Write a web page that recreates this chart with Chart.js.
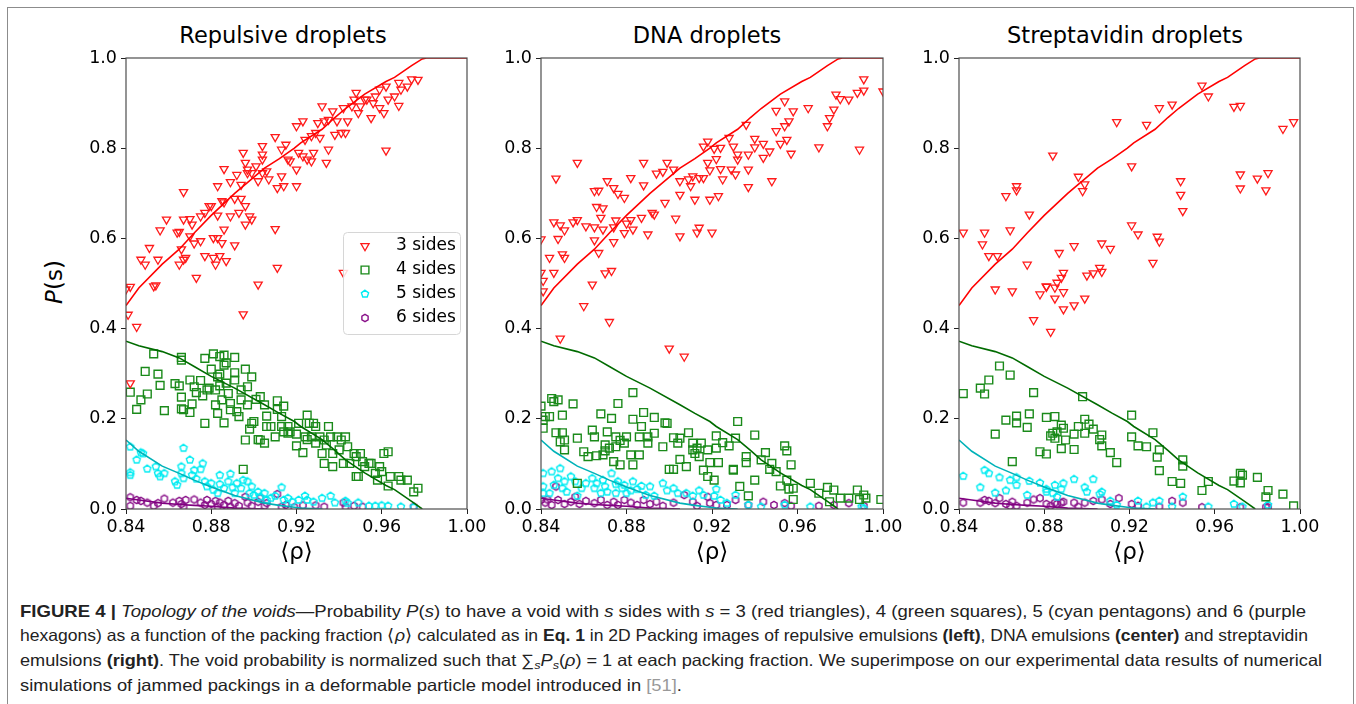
<!DOCTYPE html>
<html>
<head>
<meta charset="utf-8">
<script src="https://cdn.jsdelivr.net/npm/chart.js@4.4.1/dist/chart.umd.min.js"></script>
<style>
html, body { margin: 0; padding: 0; background: #fff; width: 1356px; height: 704px; overflow: hidden; }
.frame { position: absolute; left: 7px; top: 7px; width: 1345px; height: 740px; border: 1.5px solid #8c8c8c; }
canvas { position: absolute; top: 0; }
.title { position: absolute; top: 22px; width: 400px; text-align: center; font-family: 'DejaVu Sans'; font-size: 22.5px; line-height: 26px; color: #000; }
.ylab { position: absolute; left: 54px; top: 282px; font-family: 'DejaVu Sans'; font-size: 23px; line-height: 26px; white-space: nowrap; transform: translate(-50%, -50%) rotate(-90deg); }
.cap { position: absolute; left: 20px; font-family: 'Liberation Sans Narrow', 'Liberation Sans', Arial, sans-serif; font-size: 16.5px; line-height: 20px; color: #222; white-space: nowrap; transform-origin: 0 50%; }
.cap sub { font-size: 0.7em; line-height: 0; vertical-align: -0.3em; }
</style>
</head>
<body>
<div class="frame"></div>
<div class="title" style="left:83px">Repulsive droplets</div>
<div class="title" style="left:507px">DNA droplets</div>
<div class="title" style="left:925px">Streptavidin droplets</div>
<div class="ylab"><i>P</i>(s)</div>
<canvas id="c1" width="500" height="580" style="left:0px;width:500px;height:580px"></canvas>
<canvas id="c2" width="410" height="580" style="left:500px;width:410px;height:580px"></canvas>
<canvas id="c3" width="446" height="580" style="left:910px;width:446px;height:580px"></canvas>

<div class="cap" data-w="1286" style="top:601px"><b>FIGURE 4 |</b> <i>Topology of the voids</i>—Probability <i>P</i>(<i>s</i>) to have a void with <i>s</i> sides with <i>s</i> = 3 (red triangles), 4 (green squares), 5 (cyan pentagons) and 6 (purple</div>
<div class="cap" data-w="1288" style="top:625px">hexagons) as a function of the packing fraction ⟨<i>ρ</i>⟩ calculated as in <b>Eq. 1</b> in 2D Packing images of repulsive emulsions <b>(left)</b>, DNA emulsions <b>(center)</b> and streptavidin</div>
<div class="cap" data-w="1302" style="top:650px">emulsions <b>(right)</b>. The void probability is normalized such that ∑<sub><i>s</i></sub><i>P<sub>s</sub></i>(<i>ρ</i>) = 1 at each packing fraction. We superimpose on our experimental data results of numerical</div>
<div class="cap" data-w="662" style="top:675px">simulations of jammed packings in a deformable particle model introduced in <span style="color:#999">[51]</span>.</div>

<script>
// axis ticks
const xTicks = [0.84, 0.88, 0.92, 0.96, 1.00];
const yTicks = [0.0, 0.2, 0.4, 0.6, 0.8, 1.0];

// simulation curves (same for every panel)
const simRho = [0.840, 0.846, 0.857, 0.865, 0.872, 0.880, 0.891, 0.905, 0.912, 0.919, 0.922, 0.932, 0.938, 0.943, 0.952, 0.962, 0.966, 0.974, 0.979, 0.981, 1.000];
const sim3 = [0.451, 0.490, 0.543, 0.576, 0.612, 0.651, 0.700, 0.756, 0.777, 0.800, 0.812, 0.842, 0.868, 0.888, 0.920, 0.948, 0.957, 0.983, 0.998, 1.0, 1.0];
const sim4 = [0.372, 0.362, 0.349, 0.335, 0.316, 0.294, 0.268, 0.231, 0.212, 0.194, 0.183, 0.154, 0.130, 0.109, 0.080, 0.052, 0.043, 0.017, 0.0, null, null];
const sim5 = [0.153, 0.128, 0.095, 0.079, 0.064, 0.049, 0.030, 0.013, 0.008, 0.004, 0.002, 0.0, null, null, null, null, null, null, null, null, null];
const sim6 = [0.024, 0.020, 0.013, 0.010, 0.008, 0.006, 0.002, 0.0, null, null, null, null, null, null, null, null, null, null, null, null, null];

// repulsive droplets [rho, P]
const repTri = [[0.847,0.553],[0.849,0.542],[0.851,0.579],[0.854,0.496],[0.855,0.553],[0.856,0.618],[0.859,0.642],[0.864,0.613],[0.865,0.615],[0.867,0.703],[0.866,0.576],[0.867,0.553],[0.865,0.542],[0.868,0.557],[0.867,0.642],[0.870,0.643],[0.871,0.631],[0.870,0.605],[0.872,0.589],[0.875,0.594],[0.873,0.513],[0.877,0.561],[0.875,0.649],[0.877,0.657],[0.879,0.672],[0.880,0.672],[0.881,0.601],[0.881,0.557],[0.882,0.542],[0.884,0.561],[0.883,0.601],[0.883,0.651],[0.885,0.590],[0.885,0.683],[0.886,0.680],[0.886,0.754],[0.883,0.716],[0.886,0.620],[0.887,0.550],[0.889,0.725],[0.889,0.649],[0.891,0.688],[0.891,0.585],[0.892,0.741],[0.894,0.719],[0.893,0.657],[0.894,0.688],[0.895,0.790],[0.896,0.768],[0.897,0.753],[0.897,0.745],[0.896,0.672],[0.898,0.649],[0.899,0.642],[0.896,0.631],[0.899,0.745],[0.901,0.760],[0.902,0.498],[0.902,0.727],[0.904,0.805],[0.904,0.786],[0.904,0.775],[0.904,0.745],[0.906,0.749],[0.907,0.731],[0.910,0.825],[0.910,0.621],[0.911,0.535],[0.911,0.712],[0.913,0.797],[0.913,0.738],[0.915,0.808],[0.916,0.775],[0.914,0.716],[0.917,0.771],[0.920,0.849],[0.920,0.716],[0.920,0.753],[0.923,0.860],[0.921,0.790],[0.923,0.782],[0.924,0.819],[0.925,0.775],[0.927,0.771],[0.928,0.790],[0.927,0.827],[0.929,0.834],[0.930,0.856],[0.932,0.893],[0.931,0.823],[0.933,0.860],[0.935,0.863],[0.934,0.768],[0.935,0.797],[0.937,0.882],[0.938,0.830],[0.939,0.860],[0.941,0.834],[0.942,0.889],[0.942,0.524],[0.943,0.834],[0.944,0.860],[0.946,0.893],[0.947,0.908],[0.948,0.923],[0.949,0.878],[0.950,0.893],[0.952,0.908],[0.953,0.908],[0.955,0.867],[0.956,0.900],[0.957,0.915],[0.959,0.930],[0.959,0.889],[0.961,0.878],[0.962,0.795],[0.962,0.937],[0.963,0.908],[0.966,0.915],[0.968,0.945],[0.968,0.894],[0.969,0.930],[0.972,0.937],[0.974,0.953],[0.977,0.952],[0.842,0.493],[0.853,0.494],[0.895,0.432],[0.841,0.431],[0.845,0.404],[0.842,0.279],[0.840,0.487]];
const repSq = [[0.842,0.259],[0.845,0.221],[0.847,0.242],[0.850,0.255],[0.849,0.305],[0.853,0.344],[0.855,0.299],[0.856,0.274],[0.858,0.218],[0.863,0.278],[0.865,0.273],[0.866,0.330],[0.866,0.336],[0.866,0.248],[0.866,0.222],[0.867,0.220],[0.870,0.214],[0.870,0.286],[0.872,0.271],[0.871,0.233],[0.873,0.258],[0.875,0.285],[0.876,0.251],[0.877,0.334],[0.877,0.190],[0.878,0.264],[0.879,0.268],[0.880,0.310],[0.881,0.344],[0.882,0.231],[0.882,0.264],[0.883,0.212],[0.883,0.293],[0.884,0.273],[0.884,0.299],[0.884,0.338],[0.885,0.242],[0.886,0.319],[0.886,0.341],[0.886,0.191],[0.887,0.279],[0.887,0.324],[0.888,0.256],[0.889,0.234],[0.889,0.220],[0.891,0.336],[0.891,0.302],[0.891,0.286],[0.892,0.216],[0.893,0.205],[0.894,0.242],[0.894,0.264],[0.895,0.088],[0.896,0.153],[0.896,0.310],[0.897,0.271],[0.897,0.231],[0.898,0.177],[0.899,0.293],[0.899,0.190],[0.900,0.194],[0.901,0.243],[0.902,0.154],[0.903,0.249],[0.903,0.153],[0.905,0.146],[0.905,0.231],[0.906,0.206],[0.906,0.183],[0.908,0.183],[0.910,0.160],[0.911,0.240],[0.911,0.221],[0.913,0.205],[0.913,0.183],[0.914,0.228],[0.914,0.171],[0.916,0.183],[0.916,0.168],[0.917,0.171],[0.920,0.140],[0.920,0.166],[0.921,0.190],[0.923,0.125],[0.924,0.160],[0.925,0.208],[0.925,0.154],[0.926,0.190],[0.927,0.160],[0.928,0.190],[0.929,0.183],[0.929,0.146],[0.931,0.160],[0.932,0.123],[0.933,0.153],[0.933,0.101],[0.934,0.142],[0.935,0.183],[0.936,0.160],[0.937,0.123],[0.937,0.094],[0.939,0.160],[0.940,0.131],[0.941,0.153],[0.942,0.101],[0.943,0.160],[0.944,0.138],[0.945,0.101],[0.947,0.123],[0.948,0.072],[0.948,0.116],[0.949,0.072],[0.950,0.123],[0.951,0.105],[0.952,0.094],[0.954,0.101],[0.955,0.101],[0.957,0.079],[0.958,0.064],[0.959,0.094],[0.960,0.083],[0.961,0.123],[0.963,0.127],[0.963,0.051],[0.964,0.072],[0.968,0.072],[0.969,0.064],[0.972,0.064],[0.975,0.038],[0.977,0.046]];
const repPent = [[0.842,0.081],[0.842,0.075],[0.842,0.138],[0.845,0.109],[0.847,0.125],[0.848,0.123],[0.850,0.089],[0.854,0.094],[0.855,0.079],[0.856,0.072],[0.858,0.079],[0.863,0.061],[0.864,0.053],[0.866,0.094],[0.866,0.079],[0.867,0.135],[0.867,0.068],[0.870,0.109],[0.871,0.075],[0.872,0.086],[0.873,0.067],[0.875,0.088],[0.876,0.101],[0.877,0.061],[0.878,0.050],[0.880,0.057],[0.881,0.042],[0.883,0.035],[0.884,0.075],[0.884,0.055],[0.886,0.046],[0.888,0.061],[0.889,0.078],[0.890,0.048],[0.891,0.035],[0.892,0.057],[0.894,0.046],[0.895,0.064],[0.897,0.061],[0.898,0.035],[0.899,0.050],[0.900,0.031],[0.902,0.038],[0.903,0.027],[0.905,0.035],[0.906,0.020],[0.908,0.024],[0.910,0.029],[0.913,0.048],[0.914,0.020],[0.916,0.024],[0.918,0.016],[0.921,0.020],[0.924,0.029],[0.925,0.020],[0.928,0.016],[0.932,0.024],[0.936,0.029],[0.938,0.014],[0.943,0.018],[0.944,0.013],[0.949,0.014],[0.954,0.007],[0.957,0.007],[0.960,0.008],[0.963,0.007],[0.969,0.005],[0.975,0.004]];
const repHex = [[0.842,0.026],[0.842,0.007],[0.845,0.020],[0.847,0.018],[0.850,0.014],[0.853,0.007],[0.855,0.013],[0.858,0.023],[0.862,0.014],[0.865,0.018],[0.866,0.011],[0.867,0.005],[0.868,0.020],[0.872,0.021],[0.875,0.014],[0.877,0.009],[0.878,0.020],[0.880,0.011],[0.882,0.018],[0.883,0.005],[0.884,0.014],[0.886,0.009],[0.888,0.018],[0.889,0.005],[0.891,0.013],[0.893,0.007],[0.896,0.027],[0.897,0.014],[0.899,0.007],[0.902,0.016],[0.903,0.024],[0.905,0.007],[0.906,0.013],[0.911,0.033],[0.913,0.005],[0.915,0.009],[0.919,0.004],[0.923,0.008],[0.929,0.008],[0.933,0.005],[0.942,0.014],[0.943,0.005],[0.947,0.007],[0.951,0.005],[0.975,0.005]];

// DNA droplets
const dnaTri = [[0.840,0.598],[0.840,0.524],[0.841,0.506],[0.841,0.483],[0.844,0.557],[0.846,0.636],[0.846,0.524],[0.847,0.733],[0.848,0.599],[0.849,0.629],[0.850,0.565],[0.851,0.557],[0.851,0.618],[0.855,0.636],[0.857,0.768],[0.857,0.641],[0.861,0.627],[0.864,0.498],[0.865,0.705],[0.865,0.625],[0.865,0.596],[0.866,0.670],[0.867,0.568],[0.867,0.706],[0.868,0.646],[0.869,0.667],[0.869,0.620],[0.870,0.523],[0.871,0.727],[0.873,0.528],[0.874,0.592],[0.874,0.712],[0.874,0.625],[0.875,0.640],[0.876,0.699],[0.879,0.690],[0.879,0.612],[0.880,0.633],[0.882,0.734],[0.882,0.641],[0.883,0.620],[0.887,0.646],[0.888,0.768],[0.888,0.718],[0.890,0.609],[0.892,0.657],[0.893,0.653],[0.894,0.744],[0.897,0.748],[0.898,0.679],[0.899,0.768],[0.902,0.753],[0.903,0.644],[0.905,0.605],[0.905,0.697],[0.905,0.727],[0.909,0.731],[0.910,0.716],[0.911,0.738],[0.912,0.686],[0.913,0.613],[0.914,0.624],[0.914,0.734],[0.916,0.734],[0.916,0.804],[0.918,0.768],[0.918,0.815],[0.919,0.751],[0.919,0.686],[0.920,0.613],[0.921,0.799],[0.922,0.776],[0.923,0.694],[0.924,0.754],[0.924,0.801],[0.925,0.731],[0.928,0.823],[0.929,0.753],[0.930,0.804],[0.931,0.742],[0.932,0.786],[0.932,0.775],[0.936,0.852],[0.937,0.786],[0.937,0.753],[0.937,0.714],[0.940,0.821],[0.940,0.802],[0.944,0.779],[0.944,0.810],[0.947,0.793],[0.948,0.727],[0.950,0.838],[0.950,0.883],[0.952,0.810],[0.954,0.904],[0.954,0.849],[0.955,0.819],[0.956,0.860],[0.957,0.788],[0.958,0.882],[0.965,0.889],[0.970,0.802],[0.974,0.849],[0.975,0.867],[0.977,0.886],[0.978,0.919],[0.980,0.909],[0.984,0.908],[0.988,0.923],[0.989,0.797],[0.991,0.928],[0.991,0.953],[1.000,0.926],[0.860,0.450],[0.872,0.415],[0.849,0.378],[0.900,0.356],[0.907,0.338]];
const dnaSq = [[0.840,0.228],[0.841,0.179],[0.841,0.197],[0.842,0.205],[0.844,0.205],[0.845,0.245],[0.846,0.238],[0.847,0.169],[0.848,0.242],[0.849,0.149],[0.850,0.208],[0.850,0.169],[0.851,0.153],[0.851,0.131],[0.855,0.233],[0.857,0.157],[0.857,0.057],[0.860,0.127],[0.862,0.116],[0.864,0.175],[0.865,0.160],[0.866,0.118],[0.868,0.211],[0.869,0.120],[0.870,0.142],[0.870,0.129],[0.871,0.171],[0.872,0.135],[0.873,0.201],[0.874,0.105],[0.875,0.160],[0.875,0.138],[0.876,0.234],[0.877,0.152],[0.877,0.098],[0.879,0.146],[0.880,0.160],[0.882,0.120],[0.883,0.098],[0.883,0.258],[0.883,0.199],[0.886,0.160],[0.886,0.120],[0.887,0.183],[0.888,0.214],[0.890,0.146],[0.890,0.160],[0.893,0.168],[0.893,0.203],[0.897,0.138],[0.898,0.191],[0.899,0.190],[0.900,0.088],[0.902,0.088],[0.902,0.158],[0.904,0.146],[0.905,0.157],[0.905,0.110],[0.908,0.094],[0.909,0.169],[0.911,0.146],[0.911,0.131],[0.912,0.123],[0.913,0.135],[0.914,0.116],[0.915,0.146],[0.916,0.086],[0.918,0.131],[0.918,0.072],[0.919,0.103],[0.921,0.064],[0.922,0.135],[0.922,0.162],[0.923,0.103],[0.925,0.147],[0.928,0.140],[0.930,0.086],[0.930,0.088],[0.932,0.194],[0.933,0.050],[0.931,0.157],[0.936,0.103],[0.936,0.116],[0.937,0.029],[0.940,0.164],[0.940,0.064],[0.943,0.109],[0.945,0.125],[0.947,0.088],[0.948,0.101],[0.950,0.083],[0.952,0.051],[0.954,0.140],[0.955,0.064],[0.955,0.129],[0.956,0.044],[0.957,0.098],[0.958,0.046],[0.958,0.021],[0.966,0.057],[0.970,0.035],[0.974,0.048],[0.977,0.042],[0.975,0.016],[0.980,0.024],[0.984,0.024],[0.988,0.042],[0.989,0.021],[0.991,0.031],[0.992,0.024],[0.999,0.021]];
const dnaPent = [[0.841,0.079],[0.841,0.050],[0.841,0.035],[0.844,0.035],[0.845,0.083],[0.846,0.053],[0.848,0.068],[0.849,0.090],[0.850,0.046],[0.851,0.061],[0.852,0.038],[0.854,0.072],[0.856,0.061],[0.857,0.029],[0.859,0.046],[0.861,0.057],[0.864,0.068],[0.865,0.046],[0.866,0.057],[0.868,0.035],[0.869,0.064],[0.870,0.050],[0.871,0.038],[0.873,0.079],[0.875,0.055],[0.875,0.035],[0.876,0.061],[0.878,0.046],[0.879,0.053],[0.880,0.035],[0.882,0.041],[0.883,0.061],[0.885,0.044],[0.887,0.051],[0.889,0.031],[0.891,0.050],[0.893,0.029],[0.897,0.057],[0.899,0.041],[0.902,0.046],[0.904,0.035],[0.908,0.035],[0.911,0.029],[0.914,0.041],[0.916,0.031],[0.921,0.029],[0.922,0.044],[0.924,0.020],[0.927,0.013],[0.931,0.031],[0.937,0.009],[0.943,0.005],[0.954,0.009],[0.966,0.005],[0.990,0.005],[0.991,0.001]];
const dnaHex = [[0.840,0.020],[0.842,0.014],[0.843,0.021],[0.845,0.009],[0.847,0.050],[0.848,0.020],[0.851,0.011],[0.854,0.016],[0.856,0.027],[0.858,0.011],[0.861,0.018],[0.865,0.013],[0.868,0.020],[0.871,0.009],[0.874,0.016],[0.876,0.009],[0.879,0.020],[0.882,0.014],[0.885,0.009],[0.888,0.020],[0.891,0.011],[0.894,0.016],[0.897,0.007],[0.902,0.014],[0.907,0.031],[0.911,0.016],[0.913,0.007],[0.918,0.027],[0.919,0.013],[0.922,0.009],[0.927,0.009],[0.931,0.020],[0.937,0.009],[0.944,0.016],[0.949,0.009],[0.954,0.013],[0.957,0.007],[0.970,0.007],[0.977,0.009],[0.984,0.013],[0.991,0.007]];

// streptavidin droplets
const strTri = [[0.842,0.613],[0.851,0.587],[0.852,0.613],[0.854,0.561],[0.857,0.487],[0.858,0.561],[0.862,0.694],[0.864,0.618],[0.865,0.483],[0.867,0.716],[0.867,0.707],[0.872,0.542],[0.873,0.653],[0.875,0.419],[0.878,0.476],[0.881,0.494],[0.881,0.493],[0.883,0.393],[0.884,0.784],[0.885,0.467],[0.885,0.491],[0.886,0.502],[0.887,0.568],[0.888,0.513],[0.889,0.524],[0.889,0.481],[0.889,0.443],[0.894,0.452],[0.894,0.583],[0.896,0.737],[0.898,0.705],[0.899,0.720],[0.899,0.467],[0.900,0.518],[0.903,0.523],[0.906,0.535],[0.907,0.526],[0.907,0.589],[0.911,0.577],[0.914,0.858],[0.921,0.760],[0.921,0.629],[0.924,0.609],[0.928,0.852],[0.931,0.546],[0.933,0.604],[0.934,0.889],[0.934,0.593],[0.940,0.897],[0.944,0.727],[0.944,0.697],[0.945,0.661],[0.954,0.939],[0.957,0.915],[0.969,0.892],[0.972,0.894],[0.972,0.742],[0.972,0.711],[0.980,0.733],[0.984,0.707],[0.985,0.745],[0.992,0.843],[0.997,0.858]];
const strSq = [[0.842,0.256],[0.850,0.268],[0.852,0.255],[0.854,0.286],[0.857,0.166],[0.859,0.317],[0.862,0.197],[0.864,0.297],[0.865,0.105],[0.867,0.206],[0.867,0.191],[0.872,0.181],[0.873,0.211],[0.875,0.258],[0.878,0.127],[0.881,0.122],[0.881,0.203],[0.883,0.162],[0.885,0.205],[0.884,0.168],[0.885,0.157],[0.886,0.171],[0.888,0.134],[0.888,0.186],[0.889,0.179],[0.890,0.153],[0.894,0.166],[0.894,0.132],[0.896,0.183],[0.898,0.249],[0.899,0.199],[0.899,0.168],[0.901,0.188],[0.903,0.177],[0.906,0.154],[0.907,0.164],[0.907,0.140],[0.911,0.125],[0.914,0.103],[0.921,0.160],[0.921,0.208],[0.924,0.140],[0.928,0.138],[0.931,0.169],[0.933,0.115],[0.934,0.131],[0.934,0.085],[0.940,0.061],[0.944,0.057],[0.945,0.109],[0.945,0.095],[0.954,0.041],[0.957,0.061],[0.969,0.062],[0.972,0.079],[0.973,0.075],[0.972,0.058],[0.980,0.070],[0.984,0.027],[0.985,0.041],[0.992,0.033],[0.997,0.007]];
const strPent = [[0.842,0.073],[0.850,0.048],[0.852,0.086],[0.854,0.079],[0.857,0.036],[0.859,0.070],[0.862,0.041],[0.864,0.064],[0.867,0.070],[0.867,0.053],[0.872,0.031],[0.873,0.062],[0.878,0.058],[0.881,0.044],[0.881,0.038],[0.884,0.035],[0.885,0.053],[0.886,0.027],[0.888,0.044],[0.889,0.057],[0.894,0.066],[0.899,0.048],[0.900,0.038],[0.903,0.066],[0.906,0.033],[0.907,0.038],[0.911,0.018],[0.914,0.009],[0.924,0.018],[0.928,0.005],[0.931,0.014],[0.934,0.018],[0.940,0.005],[0.945,0.027],[0.957,0.005],[0.969,0.011],[0.973,0.005],[0.985,0.009]];
const strHex = [[0.842,0.014],[0.850,0.014],[0.852,0.020],[0.854,0.018],[0.857,0.013],[0.859,0.024],[0.862,0.011],[0.864,0.007],[0.865,0.016],[0.867,0.007],[0.872,0.014],[0.875,0.021],[0.878,0.024],[0.881,0.011],[0.883,0.007],[0.885,0.014],[0.886,0.011],[0.888,0.014],[0.889,0.016],[0.894,0.014],[0.896,0.005],[0.899,0.014],[0.903,0.018],[0.907,0.021],[0.911,0.011],[0.915,0.024],[0.921,0.011],[0.924,0.007],[0.934,0.005],[0.940,0.018],[0.945,0.014],[0.954,0.004],[0.972,0.004],[0.984,0.004],[0.985,0.004]];

const FONT = 'DejaVu Sans';

// hollow polygon marker as an image, chart.js has no pentagon / hexagon
function polyMarker(n, color, r) {
    var size = Math.ceil(r * 2 + 4);
    var c = document.createElement('canvas');
    c.width = size; c.height = size;
    var g = c.getContext('2d');
    g.strokeStyle = color;
    g.lineWidth = 1.4;
    g.beginPath();
    for (var i = 0; i < n; i++) {
        var a = i * 2 * Math.PI / n;
        var px = size / 2 + r * Math.sin(a), py = size / 2 - r * Math.cos(a);
        if (i == 0) g.moveTo(px, py); else g.lineTo(px, py);
    }
    g.closePath();
    g.stroke();
    return c;
}
const pentagon = polyMarker(5, '#00ecf2', 3.8);
const hexagon = polyMarker(6, '#8a128a', 3.6);

function curve(ys) {
    return simRho.map((x, i) => [x, ys[i]]);
}

const framePlugin = {
    id: 'frame',
    afterDatasetsDraw(chart) {
        const ctx = chart.ctx, a = chart.chartArea;
        ctx.save();
        ctx.strokeStyle = '#4d4d4d';
        ctx.lineWidth = 1.2;
        ctx.strokeRect(a.left, a.top, a.right - a.left, a.bottom - a.top);
        ctx.restore();
    }
};

// matplotlib-like legend box inside the first panel
const boxLegend = {
    id: 'boxLegend',
    afterDraw(chart) {
        const ctx = chart.ctx, a = chart.chartArea;
        const w = 117, h = 102;
        const x0 = a.right - 7 - w, y0 = a.top + 174;
        ctx.save();
        ctx.fillStyle = 'rgba(255,255,255,0.85)';
        ctx.strokeStyle = '#d6d6d6';
        ctx.lineWidth = 1;
        ctx.beginPath();
        ctx.roundRect(x0 + 0.5, y0 + 0.5, w, h, 4);
        ctx.fill();
        ctx.stroke();
        chart.data.datasets.filter(d => d.inLegend).forEach((d, i) => {
            const y = y0 + 14 + i * 24;
            ctx.strokeStyle = d.pointBorderColor;
            ctx.fillStyle = 'rgba(0,0,0,0)';
            ctx.lineWidth = d.pointBorderWidth;
            Chart.helpers.drawPoint(ctx, {
                pointStyle: d.pointStyle, rotation: d.pointRotation || 0,
                radius: d.pointRadius, borderWidth: d.pointBorderWidth
            }, x0 + 22, y);
            ctx.fillStyle = '#000';
            ctx.font = '17px "' + FONT + '"';
            ctx.textBaseline = 'middle';
            ctx.textAlign = 'left';
            ctx.fillText(d.label, x0 + 53, y);
        });
        ctx.restore();
    }
};

function makePanel(id, tri, sq, pent, hex, yWidth, padRight, withLegend) {
    const lineSet = (ys, color) => ({
        data: curve(ys), showLine: true, pointRadius: 0,
        borderColor: color, borderWidth: 1.6, fill: false
    });
    const plugins = [framePlugin];
    if (withLegend) plugins.push(boxLegend);
    return new Chart(document.getElementById(id), {
        type: 'scatter',
        data: {
            datasets: [
                lineSet(sim3, '#ff0000'),
                lineSet(sim4, '#006b00'),
                lineSet(sim5, '#00b2b8'),
                lineSet(sim6, '#800080'),
                { label: '3 sides', inLegend: true, data: tri, pointStyle: 'triangle', pointRotation: 180, pointRadius: 4.7,
                  pointBorderColor: '#ff1a1a', pointBackgroundColor: 'rgba(0,0,0,0)', pointBorderWidth: 1.3 },
                { label: '4 sides', inLegend: true, data: sq, pointStyle: 'rect', pointRadius: 5.5,
                  pointBorderColor: '#1a8a1a', pointBackgroundColor: 'rgba(0,0,0,0)', pointBorderWidth: 1.4 },
                { label: '5 sides', inLegend: true, data: pent, pointStyle: pentagon, pointRadius: 4,
                  pointBorderColor: '#00ecf2', pointBackgroundColor: 'rgba(0,0,0,0)', pointBorderWidth: 1.4 },
                { label: '6 sides', inLegend: true, data: hex, pointStyle: hexagon, pointRadius: 4,
                  pointBorderColor: '#8a128a', pointBackgroundColor: 'rgba(0,0,0,0)', pointBorderWidth: 1.4 }
            ]
        },
        options: {
            responsive: false,
            animation: false,
            events: [],
            layout: { padding: { top: 58, right: padRight, left: 0, bottom: 0 } },
            plugins: { legend: { display: false }, tooltip: { enabled: false } },
            scales: {
                x: {
                    type: 'linear', min: 0.84, max: 1.0,
                    afterBuildTicks: s => { s.ticks = xTicks.map(v => ({ value: v })); },
                    afterFit: s => { s.height = 71; },
                    ticks: { font: { family: FONT, size: 17.5 }, color: '#000', padding: 3, maxRotation: 0, autoSkip: false,
                             callback: v => v.toFixed(2) },
                    grid: { display: true, drawOnChartArea: false, drawTicks: true, tickLength: 5, tickColor: '#222', tickWidth: 1 },
                    border: { display: false },
                    title: { display: true, text: '⟨ρ⟩', font: { family: FONT, size: 23 }, color: '#000', padding: { top: 0, bottom: 13 } }
                },
                y: {
                    type: 'linear', min: 0, max: 1,
                    afterBuildTicks: s => { s.ticks = yTicks.map(v => ({ value: v })); },
                    afterFit: s => { s.width = yWidth; },
                    ticks: { font: { family: FONT, size: 17.5 }, color: '#000', padding: 4, callback: v => v.toFixed(1) },
                    grid: { display: true, drawOnChartArea: false, drawTicks: true, tickLength: 5, tickColor: '#222', tickWidth: 1 },
                    border: { display: false }
                }
            }
        },
        plugins: plugins
    });
}

makePanel('c1', repTri, repSq, repPent, repHex, 126, 33, true);
makePanel('c2', dnaTri, dnaSq, dnaPent, dnaHex, 41, 27, false);
makePanel('c3', strTri, strSq, strPent, strHex, 49, 56, false);

// stretch each caption line to the width it has in the printed figure
document.querySelectorAll('.cap').forEach(el => {
    const target = parseFloat(el.dataset.w);
    const natural = el.getBoundingClientRect().width;
    el.style.transform = 'scaleX(' + (target / natural).toFixed(4) + ')';
});
</script>
</body>
</html>
